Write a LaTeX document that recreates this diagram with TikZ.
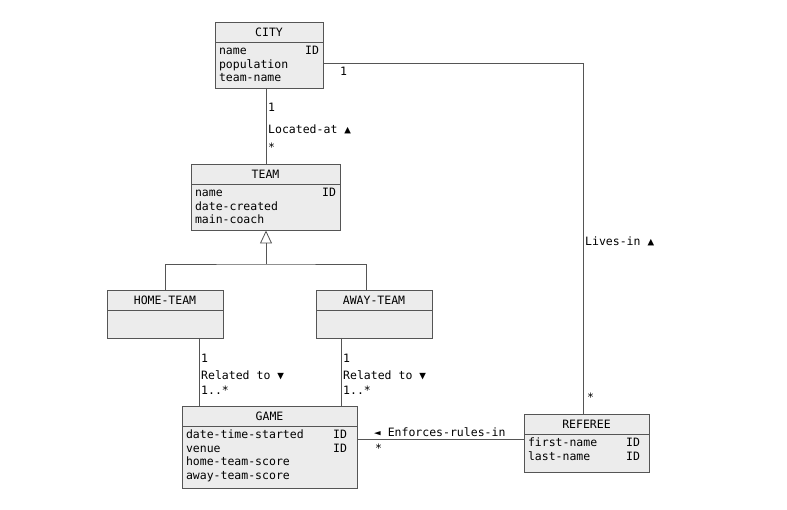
\documentclass[tikz,border=0pt]{standalone}
\usepackage{fontspec}
\newfontfamily\umlfont{DejaVu Sans Mono}
\usepackage{tikz}
\usetikzlibrary{positioning,arrows.meta}
\definecolor{boxfill}{RGB}{236,236,236}
\definecolor{boxline}{RGB}{85,85,85}
\newcommand{\roleup}{{\fontsize{11}{11}\selectfont ▲}}
\newcommand{\roledown}{{\fontsize{11}{11}\selectfont ▼}}
\newcommand{\roleleft}{{\fontsize{11}{11}\selectfont ◄}}

\begin{document}
\begin{tikzpicture}[x=1pt,y=-1pt,
	font=\umlfont\fontsize{11.5}{13.5}\selectfont,
	classhead/.style={draw=boxline,fill=boxfill,line width=0.8pt,outer sep=0pt,minimum height=20pt,inner sep=0pt,anchor=north west},
	classbody/.style={draw=boxline,fill=boxfill,line width=0.8pt,outer sep=0pt,inner xsep=4pt,inner ysep=0pt,align=left,text height=12.8pt},
	assoc/.style={draw=boxline,line width=0.8pt},
	lbl/.style={anchor=west,inner sep=0pt}]
	
	\useasboundingbox[fill=white] (0,0) rectangle (787,510);
	
	%classes
	\node (city) [classhead,minimum width=108pt] at (215,22) {CITY};
	\node (cityattr) [classbody,text width=100pt,text depth=33.2pt,below=0pt of city] {name\hfill ID\\population\\team-name};
	
	\node (team) [classhead,minimum width=149pt] at (191,164) {TEAM};
	\node (teamattr) [classbody,text width=141pt,text depth=33.7pt,below=0pt of team] {name\hfill ID\\date-created\\main-coach};
	
	\node (home) [classhead,minimum width=116pt] at (107,290) {HOME-TEAM};
	\node (homeattr) [classbody,text width=108pt,text depth=15.2pt,below=0pt of home] {};
	
	\node (away) [classhead,minimum width=116pt] at (316,290) {AWAY-TEAM};
	\node (awayattr) [classbody,text width=108pt,text depth=15.2pt,below=0pt of away] {};
	
	\node (game) [classhead,minimum width=175pt] at (182,406) {GAME};
	\node (gameattr) [classbody,text width=167pt,text depth=49.2pt,below=0pt of game] {date-time-started\hfill ID\kern6pt\\venue\hfill ID\kern6pt\\home-team-score\\away-team-score};
	
	\node (referee) [classhead,minimum width=125pt] at (524,414) {REFEREE};
	\node (refattr) [classbody,text width=117pt,text depth=25.2pt,below=0pt of referee] {first-name\hfill ID\kern5pt\\last-name\hfill ID\kern5pt};
	
	%Located-at
	\draw[assoc] ([xshift=-3pt]cityattr.south) -- ([xshift=-3pt]cityattr.south |- team.north);
	\node (locone) [lbl] at (268,107) {1};
	\node (locname) [lbl] at (268,129) {Located-at \roleup};
	\node (locmany) [lbl] at (268,147) {*};
	
	%generalization
	\coordinate (genjoin) at (266,264);
	\draw[assoc] (home.north) |- (genjoin) -| ([xshift=-8pt]away.north);
	\draw[assoc,-{Triangle[open,length=13pt,width=12pt]}] (genjoin) -- (genjoin |- teamattr.south);
	
	%Related to
	\draw[assoc] ([xshift=34pt]homeattr.south) -- ([xshift=34pt]homeattr.south |- game.north);
	\node (homeone) [lbl] at (201,358) {1};
	\node (homename) [lbl] at (201,375) {Related to \roledown};
	\node (homemany) [lbl] at (201,390) {1..*};
	
	\draw[assoc] ([xshift=-33pt]awayattr.south) -- ([xshift=-33pt]awayattr.south |- game.north);
	\node (awayone) [lbl] at (343,358) {1};
	\node (awayname) [lbl] at (343,375) {Related to \roledown};
	\node (awaymany) [lbl] at (343,390) {1..*};
	
	%Lives-in
	\draw[assoc] ([yshift=2pt]cityattr.east) -| ([xshift=-3pt]referee.north);
	\node (livesone) [lbl] at (340,71) {1};
	\node (livesname) [lbl] at (585,241) {Lives-in \roleup};
	\node (livesmany) [lbl] at (587,397) {*};
	
	%Enforces-rules-in
	\draw[assoc] ([yshift=14pt]refattr.west) -- ([yshift=14pt]refattr.west -| gameattr.east);
	\node (rulesname) [lbl] at (374,432) {\roleleft{} Enforces-rules-in};
	\node (rulesmany) [lbl] at (375,448) {*};
\end{tikzpicture}
\end{document}
